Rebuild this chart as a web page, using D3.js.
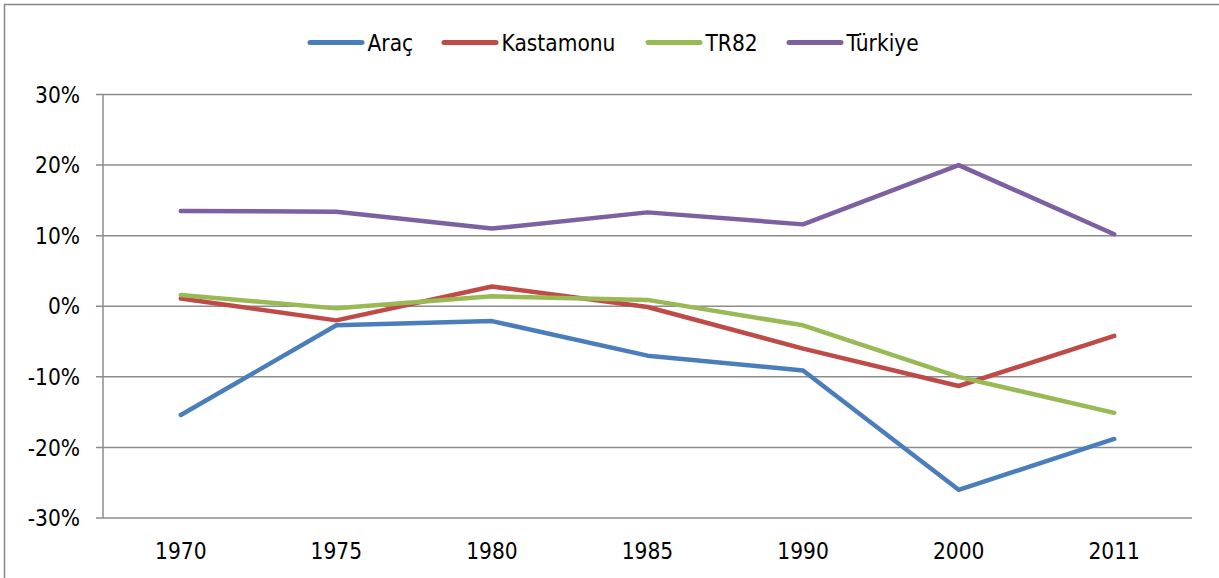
<!DOCTYPE html>
<html>
<head>
<meta charset="utf-8">
<script src="https://cdn.jsdelivr.net/npm/d3@7"></script>
<style>
  body { margin: 0; background: #fff; }
  text { font-family: "DejaVu Sans Condensed", Tahoma, "DejaVu Sans", sans-serif; fill: #000; }
</style>
</head>
<body>
<svg id="chart" width="1219" height="578"></svg>
<script>
// ---- DATA ----
const years = ["1970", "1975", "1980", "1985", "1990", "2000", "2011"];
const arac = [-15.4, -2.7, -2.1, -7.0, -9.1, -26.0, -18.8];
const kastamonu = [1.1, -2.0, 2.8, -0.1, -6.0, -11.3, -4.2];
const tr82 = [1.6, -0.3, 1.4, 0.9, -2.7, -10.0, -15.1];
const turkiye = [13.5, 13.4, 11.0, 13.3, 11.6, 20.0, 10.2];
const yTicks = [-30, -20, -10, 0, 10, 20, 30];

const series = [
  { name: "Araç", values: arac, color: "#4A7EBB" },
  { name: "Kastamonu", values: kastamonu, color: "#BE4B48" },
  { name: "TR82", values: tr82, color: "#98B954" },
  { name: "Türkiye", values: turkiye, color: "#7D60A0" }
];

const svg = d3.select("#chart");
const margin = { left: 103, right: 1192, top: 94.5, bottom: 518 };
const fontSize = "22.5px";

// outer chart border
svg.append("rect")
  .attr("x", 4.5).attr("y", 4.5)
  .attr("width", 1230).attr("height", 600)
  .attr("fill", "none")
  .attr("stroke", "#868686")
  .attr("stroke-width", 1.5);

const x = d3.scaleBand().domain(years).range([margin.left, margin.right]);
const y = d3.scaleLinear().domain([-30, 30]).range([margin.bottom, margin.top]);

// gridlines
svg.append("g")
  .selectAll("line")
  .data(yTicks)
  .join("line")
  .attr("x1", margin.left - 7)
  .attr("x2", margin.right)
  .attr("y1", d => y(d))
  .attr("y2", d => y(d))
  .attr("stroke", "#8c8c8c")
  .attr("stroke-width", 1.5);

// y axis line
svg.append("line")
  .attr("x1", margin.left).attr("x2", margin.left)
  .attr("y1", margin.top).attr("y2", margin.bottom)
  .attr("stroke", "#8c8c8c")
  .attr("stroke-width", 1.5);

// y labels
svg.append("g")
  .selectAll("text")
  .data(yTicks)
  .join("text")
  .attr("x", 80)
  .attr("y", d => y(d))
  .attr("dy", "0.36em")
  .attr("text-anchor", "end")
  .attr("font-size", fontSize)
  .text(d => d + "%");

// x labels
svg.append("g")
  .selectAll("text")
  .data(years)
  .join("text")
  .attr("x", d => x(d) + x.bandwidth() / 2)
  .attr("y", 558.5)
  .attr("text-anchor", "middle")
  .attr("font-size", fontSize)
  .text(d => d);

// lines
const line = d3.line()
  .x((d, i) => x(years[i]) + x.bandwidth() / 2)
  .y(d => y(d));

svg.append("g")
  .selectAll("path")
  .data(series)
  .join("path")
  .attr("d", d => line(d.values))
  .attr("fill", "none")
  .attr("stroke", d => d.color)
  .attr("stroke-width", 4.5)
  .attr("stroke-linejoin", "round")
  .attr("stroke-linecap", "round");

// legend
const legendX = [308, 442, 646, 787];
const legend = svg.append("g")
  .selectAll("g")
  .data(series)
  .join("g")
  .attr("transform", (d, i) => `translate(${legendX[i]},42.5)`);

legend.append("line")
  .attr("x1", 2).attr("x2", 54)
  .attr("stroke", d => d.color)
  .attr("stroke-width", 5)
  .attr("stroke-linecap", "round");

legend.append("text")
  .attr("x", 59.5)
  .attr("dy", "0.36em")
  .attr("font-size", fontSize)
  .text(d => d.name);
</script>
</body>
</html>
